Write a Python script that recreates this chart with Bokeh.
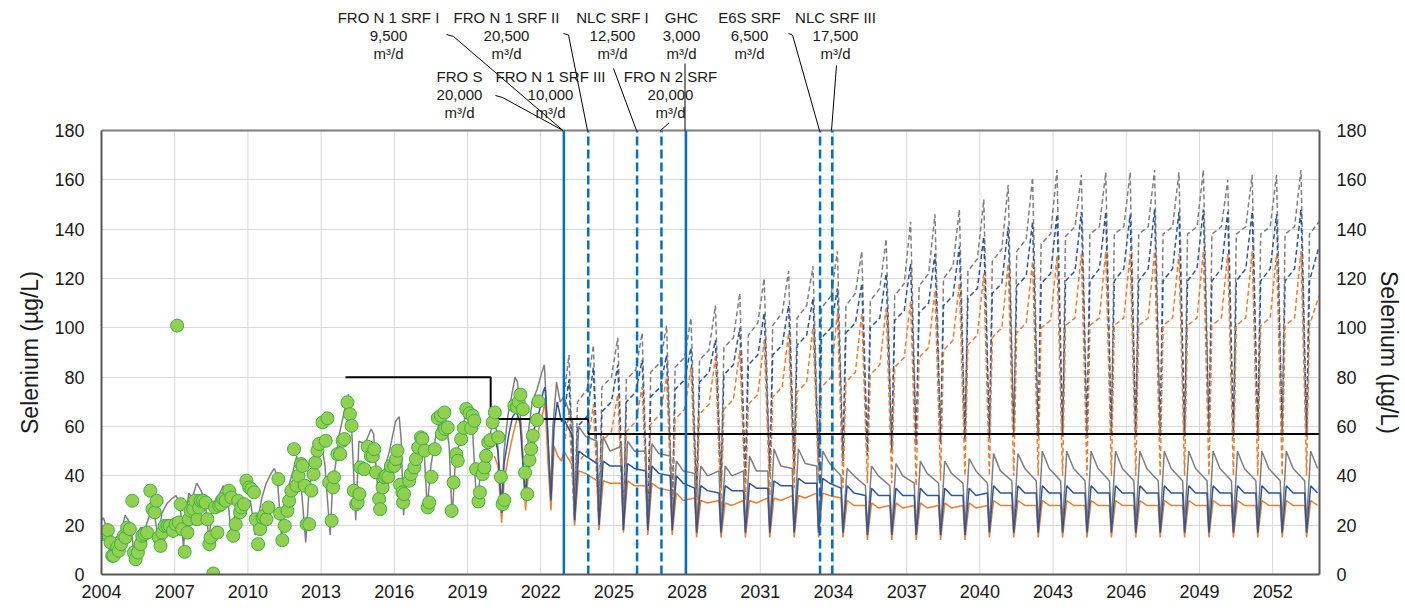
from bokeh.plotting import figure
from bokeh.models import Range1d, LinearAxis, Title
from bokeh.core.properties import value
from bokeh.embed import file_html
from bokeh.resources import INLINE

# ---------------- data ----------------
x_ticks = list(range(2004, 2053, 3))
y_ticks = list(range(0, 181, 20))

# observed selenium (green circles)
obs_t = [2004.00, 2004.20, 2004.26, 2004.37, 2004.44, 2004.50, 2004.64, 2004.71, 2004.80, 2004.92,
         2004.98, 2005.05, 2005.16, 2005.26, 2005.33, 2005.40, 2005.49, 2005.60, 2005.67, 2005.76,
         2005.87, 2006.00, 2006.09, 2006.18, 2006.26, 2006.35, 2006.42, 2006.49, 2006.59, 2006.70,
         2006.80, 2006.93, 2007.04, 2007.10, 2007.17, 2007.24, 2007.31, 2007.41, 2007.52, 2007.58,
         2007.65, 2007.76, 2007.83, 2007.93, 2008.00, 2008.06, 2008.16, 2008.27, 2008.34, 2008.42,
         2008.47, 2008.58, 2008.65, 2008.75, 2008.82, 2008.91, 2008.99, 2009.09, 2009.23, 2009.32,
         2009.40, 2009.50, 2009.60, 2009.68, 2009.73, 2009.84, 2009.94, 2010.05, 2010.14, 2010.25,
         2010.32, 2010.42, 2010.50, 2010.60, 2010.66, 2010.76, 2010.84, 2011.25, 2011.32, 2011.41,
         2011.51, 2011.62, 2011.69, 2011.78, 2011.89, 2011.99, 2012.07, 2012.17, 2012.24, 2012.33,
         2012.41, 2012.51, 2012.60, 2012.69, 2012.76, 2012.85, 2012.92, 2013.06, 2013.19, 2013.26,
         2013.33, 2013.43, 2013.49, 2013.53, 2013.67, 2013.78, 2013.88, 2013.95, 2014.08, 2014.18,
         2014.25, 2014.34, 2014.44, 2014.50, 2014.57, 2014.61, 2014.77, 2014.91, 2015.04, 2015.12,
         2015.18, 2015.25, 2015.38, 2015.42, 2015.52, 2015.59, 2015.66, 2015.75, 2015.86, 2016.00,
         2016.07, 2016.13, 2016.24, 2016.33, 2016.36, 2016.40, 2016.61, 2016.68, 2016.82, 2016.89,
         2016.98, 2017.09, 2017.15, 2017.24, 2017.37, 2017.43, 2017.52, 2017.66, 2017.78, 2017.91,
         2017.95, 2018.05, 2018.08, 2018.19, 2018.35, 2018.43, 2018.54, 2018.60, 2018.74, 2018.85,
         2018.95, 2019.08, 2019.15, 2019.21, 2019.28, 2019.35, 2019.45, 2019.51, 2019.62, 2019.69,
         2019.76, 2019.85, 2019.94, 2020.03, 2020.12, 2020.26, 2020.37, 2020.44, 2020.51, 2020.92,
         2021.03, 2021.10, 2021.17, 2021.27, 2021.36, 2021.45, 2021.54, 2021.61, 2021.68, 2021.85,
         2021.91]
obs_v = [16.4, 16.8, 18.0, 13.0, 7.6, 7.6, 11.0, 9.6, 12.3, 15.7,
         15.0, 19.0, 18.4, 29.9, 8.9, 6.2, 8.9, 12.3, 15.7, 16.4,
         17.0, 34.0, 26.5, 25.2, 29.9, 15.0, 11.6, 17.0, 19.7, 19.7,
         19.7, 17.7, 20.4, 100.9, 21.1, 28.5, 18.4, 9.2, 17.0, 22.4,
         25.8, 26.5, 29.9, 22.4, 27.2, 29.9, 29.9, 29.2, 22.4, 12.3,
         15.0, 0.4, 27.2, 17.0, 27.9, 28.5, 30.6, 29.9, 34.0, 31.2,
         15.7, 20.4, 29.9, 25.2, 27.2, 28.5, 38.0, 35.3, 34.6, 33.3,
         22.4, 12.3, 18.4, 23.1, 23.8, 22.4, 27.2, 38.7, 24.7, 13.9,
         19.7, 25.8, 29.9, 34.0, 50.8, 36.0, 40.0, 44.8, 44.0, 36.0,
         20.4, 20.4, 34.0, 40.7, 45.4, 50.2, 52.9, 61.7, 54.2, 63.3,
         37.3, 21.8, 35.3, 39.4, 48.8, 48.8, 54.2, 54.9, 69.8, 65.0,
         60.3, 34.0, 28.5, 29.2, 32.6, 43.4, 42.7, 51.8, 48.1, 48.0,
         50.8, 41.4, 30.6, 26.5, 35.3, 39.4, 40.0, 39.6, 44.0, 44.0,
         46.8, 50.2, 36.4, 33.3, 29.2, 32.6, 38.0, 40.7, 43.4, 46.8,
         51.5, 55.6, 55.0, 50.2, 27.2, 29.2, 39.6, 50.8, 63.4, 64.4,
         57.0, 65.7, 59.0, 59.6, 25.8, 37.3, 48.8, 46.1, 54.9, 59.4,
         67.1, 65.3, 59.4, 64.4, 62.3, 42.7, 29.6, 33.3, 40.7, 43.4,
         48.1, 53.6, 54.5, 61.7, 65.7, 55.6, 39.6, 28.5, 30.2, 68.4,
         67.7, 70.0, 72.9, 67.0, 41.3, 32.6, 46.4, 50.9, 56.3, 62.6,
         70.2]

# modelled (historical) - grey solid line
hist_t = [2004.00, 2004.08, 2004.20, 2004.35, 2004.47, 2004.60, 2004.80, 2004.97, 2005.10, 2005.22,
          2005.33, 2005.45, 2005.60, 2005.80, 2005.97, 2006.10, 2006.22, 2006.33, 2006.48, 2006.70,
          2006.92, 2007.05, 2007.22, 2007.36, 2007.48, 2007.58, 2007.72, 2007.90, 2008.08, 2008.25,
          2008.40, 2008.52, 2008.70, 2008.85, 2009.00, 2009.15, 2009.35, 2009.47, 2009.60, 2009.75,
          2009.95, 2010.10, 2010.30, 2010.42, 2010.57, 2010.75, 2010.95, 2011.08, 2011.20, 2011.38,
          2011.50, 2011.65, 2011.85, 2012.00, 2012.15, 2012.37, 2012.50, 2012.65, 2012.85, 2013.00,
          2013.15, 2013.37, 2013.47, 2013.60, 2013.75, 2013.95, 2014.12, 2014.25, 2014.42, 2014.55,
          2014.80, 2015.05, 2015.15, 2015.35, 2015.50, 2015.80, 2016.05, 2016.20, 2016.28, 2016.38,
          2016.50, 2016.70, 2016.90, 2017.05, 2017.20, 2017.35, 2017.50, 2017.70, 2017.90, 2018.10,
          2018.25, 2018.37, 2018.50, 2018.70, 2018.90, 2019.05, 2019.20, 2019.38, 2019.50, 2019.70,
          2019.90, 2020.05, 2020.20, 2020.40, 2020.50, 2020.65, 2020.80, 2020.95, 2021.05, 2021.20,
          2021.38, 2021.50, 2021.65, 2021.85, 2022.05, 2022.15, 2022.28, 2022.40, 2022.50, 2022.65,
          2022.80, 2022.95]
hist_v = [22, 23, 19, 8, 13, 15, 17, 24, 22, 19,
          8, 16, 19, 19, 24, 28, 21, 15, 25, 29,
          31, 32, 29, 11, 26, 33, 31, 37, 34, 30,
          14, 25, 31, 33, 36, 33, 13, 24, 31, 26,
          29, 30, 16, 23, 31, 37, 41, 43, 40, 15,
          29, 35, 42, 48, 40, 13, 33, 43, 54, 53,
          45, 16, 36, 45, 57, 66, 73, 60, 22, 54,
          53, 59, 57, 30, 39, 50, 62, 64, 55, 24,
          37, 46, 52, 58, 54, 27, 44, 56, 64, 63,
          52, 23, 45, 55, 64, 65, 60, 27, 38, 48,
          55, 63, 58, 28, 50, 64, 72, 80, 78, 60,
          30, 58, 70, 75, 82, 85, 60, 32, 60, 78,
          70, 72]

blue_hist_t = [2020.10, 2020.25, 2020.40, 2020.50, 2020.70, 2020.85, 2021.00, 2021.15, 2021.37, 2021.50,
               2021.70, 2021.90, 2022.10, 2022.18, 2022.30, 2022.42, 2022.55, 2022.68, 2022.85, 2022.95]
blue_hist_v = [56, 50, 25, 45, 57, 64, 66, 62, 31, 48,
               58, 64, 74, 76, 55, 30, 60, 70, 62, 63]
orange_hist_t = [2020.10, 2020.25, 2020.40, 2020.50, 2020.70, 2020.85, 2021.05, 2021.20, 2021.38, 2021.50,
                 2021.70, 2021.90, 2022.10, 2022.18, 2022.30, 2022.42, 2022.55, 2022.70, 2022.85, 2022.95]
orange_hist_v = [48, 44, 21, 38, 49, 56, 64, 60, 26, 42,
                 52, 58, 66, 70, 45, 26, 52, 48, 46, 50]

# projections, one value per year 2023..2053
proj_years = list(range(2023, 2054))

gray_pre    = [62, 54, 52, 50, 48, 41, 42, 42, 42, 43, 44, 40, 36, 36, 37, 37, 37, 37, 38, 38, 38, 38, 38, 38, 38, 38, 38, 38, 38, 38, 38]
gray_trough = [24, 22, 21, 20, 20, 19, 19, 19, 19, 19, 19, 19, 18, 18, 18, 18, 19, 19, 19, 20, 20, 20, 21, 21, 21, 21, 21, 21, 21, 21, 21]
gray_peak   = [60, 56, 54, 53, 46, 44, 44, 48, 51, 51, 50, 43, 44, 45, 46, 46, 47, 49, 49, 50, 50, 50, 50, 50, 50, 50, 50, 50, 50, 50, 50]
gray_mid    = [56, 50, 50, 49, 42, 40, 40, 42, 44, 45, 45, 40, 40, 40, 41, 41, 42, 42, 43, 43, 43, 43, 43, 43, 43, 43, 43, 43, 43, 43, 43]

blue_pre    = [56, 45, 44, 42, 40, 35, 33, 34, 35, 36, 37, 35, 32, 32, 32, 32, 32, 33, 33, 33, 33, 33, 33, 33, 33, 33, 33, 33, 33, 33, 33]
blue_trough = [22, 20, 18, 18, 18, 17, 17, 17, 17, 17, 17, 17, 16, 16, 16, 16, 16, 17, 17, 17, 17, 17, 17, 17, 17, 17, 17, 17, 17, 17, 17]
blue_peak   = [50, 46, 45, 44, 40, 36, 36, 37, 38, 39, 39, 36, 35, 35, 35, 35, 35, 36, 36, 36, 36, 36, 36, 36, 36, 36, 36, 36, 36, 36, 36]
blue_mid    = [48, 44, 43, 41, 37, 34, 34, 35, 36, 37, 37, 33, 32, 32, 32, 32, 32, 33, 33, 33, 33, 33, 33, 33, 33, 33, 33, 33, 33, 33, 33]

orange_pre    = [44, 38, 37, 36, 34, 31, 30, 30, 31, 32, 33, 31, 28, 28, 28, 28, 28, 28, 28, 28, 28, 28, 28, 28, 28, 28, 28, 28, 28, 28, 28]
orange_trough = [20, 18, 17, 16, 16, 15, 15, 15, 15, 15, 15, 15, 14, 14, 14, 14, 14, 15, 15, 15, 15, 15, 15, 15, 15, 15, 15, 15, 15, 15, 15]
orange_peak   = [42, 38, 38, 37, 33, 30, 29, 30, 31, 32, 33, 30, 29, 29, 29, 29, 29, 30, 30, 30, 30, 30, 30, 30, 30, 30, 30, 30, 30, 30, 30]
orange_mid    = [41, 37, 36, 35, 30, 29, 28, 29, 30, 31, 32, 28, 27, 27, 27, 27, 27, 28, 28, 28, 28, 28, 28, 28, 28, 28, 28, 28, 28, 28, 28]

dash_start = {"gray": 76, "blue": 68, "orange": 55}   # values at 2023.0
gray_dash_peak   = [89, 93, 96, 98, 101, 104, 109, 114, 120, 123, 125, 131, 131, 136, 143, 146, 148, 152, 158, 161, 164, 162, 163, 163, 164, 163, 164, 160, 162, 162, 164]
gray_dash_trough = [24, 22, 22, 23, 27, 34, 38, 40, 42, 44, 46, 48, 50, 52, 53, 54, 55, 56, 56, 57, 57, 57, 57, 57, 57, 57, 57, 57, 57, 57, 57]
gray_dash_rise   = [70, 76, 79, 82, 84, 87, 92, 97, 101, 104, 108, 109, 111, 113, 117, 120, 123, 127, 131, 134, 137, 138, 138, 138, 138, 138, 138, 138, 138, 138, 138]
gray_dash_plat   = [75, 80, 83, 86, 88, 91, 96, 102, 106, 109, 113, 114, 116, 118, 122, 125, 128, 132, 136, 138, 141, 141, 141, 141, 141, 141, 141, 141, 141, 141, 143]

blue_dash_peak   = [79, 84, 85, 87, 89, 92, 95, 100, 106, 109, 112, 116, 118, 122, 126, 130, 133, 137, 141, 143, 146, 147, 147, 146, 148, 147, 148, 147, 147, 146, 148]
blue_dash_trough = [22, 21, 21, 21, 25, 31, 35, 38, 40, 42, 44, 46, 48, 50, 52, 53, 54, 55, 56, 56, 56, 56, 56, 56, 56, 56, 56, 56, 56, 56, 56]
blue_dash_rise   = [60, 66, 70, 72, 75, 78, 81, 85, 89, 93, 96, 98, 100, 103, 106, 109, 112, 114, 117, 118, 119, 119, 119, 119, 119, 119, 119, 119, 119, 119, 119]
blue_dash_plat   = [64, 70, 74, 76, 79, 82, 85, 89, 93, 97, 100, 102, 104, 107, 110, 113, 116, 118, 121, 122, 123, 124, 124, 124, 124, 124, 124, 124, 124, 124, 133]

orange_dash_peak   = [66, 69, 73, 76, 80, 84, 88, 91, 95, 98, 100, 106, 106, 108, 111, 115, 118, 122, 126, 127, 129, 130, 131, 130, 131, 130, 131, 130, 131, 130, 131]
orange_dash_trough = [20, 19, 18, 18, 20, 24, 26, 30, 32, 35, 38, 35, 37, 37, 36, 38, 40, 40, 40, 40, 40, 40, 40, 40, 40, 40, 40, 40, 40, 40, 40]
orange_dash_rise   = [45, 54, 58, 61, 63, 65, 67, 69, 72, 74, 76, 78, 81, 84, 88, 91, 93, 96, 98, 100, 101, 101, 101, 101, 101, 101, 101, 101, 101, 101, 101]
orange_dash_plat   = [50, 58, 62, 65, 67, 69, 71, 73, 76, 78, 80, 82, 85, 88, 92, 95, 97, 100, 102, 103, 104, 104, 104, 104, 104, 104, 104, 104, 104, 104, 113]

# benchmark step line
bench_start = [2014.0, 2019.95, 2023.95]
bench_value = [80, 63, 57]
bench_end = 2053.92

# facility start dates (vertical lines)
event_solid = [2022.95, 2027.95]
event_dashed = [2023.95, 2025.95, 2026.95, 2033.45, 2033.95]

ann_names = ["FRO N 1 SRF I", "FRO N 1 SRF II", "NLC SRF I", "GHC", "E6S SRF", "NLC SRF III",
             "FRO S", "FRO N 1 SRF III", "FRO N 2 SRF"]
ann_flows = ["9,500", "20,500", "12,500", "3,000", "6,500", "17,500", "20,000", "10,000", "20,000"]
ann_unit = "m³/d"
y_title = "Selenium (µg/L)"

# ---------------- layout helpers ----------------
X0, X1 = 2004.0, 2053.92
Y0, Y1 = 0, 180
FW = 1218
PLOT_TOP, PLOT_BOTTOM = 130, 574        # page px of the value axis 180 .. 0
FH = PLOT_BOTTOM                         # frame spans page y 0 .. 574 (annotations on top)
LEFT = 101
Y_PER_PX = (Y1 - Y0) / (PLOT_BOTTOM - PLOT_TOP)
YTOP = Y0 + PLOT_BOTTOM * Y_PER_PX


def px_x(X):
    return X0 + (X - LEFT) * (X1 - X0) / FW


def px_y(Y):
    return Y0 + (PLOT_BOTTOM - Y) * Y_PER_PX


# label block positions (page px: centre x, first row y)
ann_pos = [(388, 17), (506, 17), (612, 17), (681, 17), (749, 17), (835, 17),
           (459, 76), (550, 76), (670, 76)]
row_dy = [0, 18.5, 36]
leaders = [
    [(446, 34), (453, 36), (562.5, 130)],
    [(495, 95), (502, 97), (562.5, 130)],
    [(563, 33), (568, 34.5), (587, 130)],
    [(613, 68), (636, 130)],
    [(660, 130), (668.5, 122.5)],
    [(684.5, 63), (684.5, 130)],
    [(788, 33), (792, 34.5), (819, 130)],
    [(836, 65), (831, 130)],
]

# ---------------- build series ----------------
SOLID_OFF = (0.31, 0.39, 0.56, 0.84)
DASH_OFF = (0.16, 0.39, 0.51, 0.90)


def build(arrs, offs):
    t, v = [], []
    for i, yr in enumerate(proj_years):
        for off, arr in zip(offs, arrs):
            t.append(yr + off)
            v.append(arr[i])
    return t, v


gs_t, gs_v = build((gray_pre, gray_trough, gray_peak, gray_mid), SOLID_OFF)
bs_t, bs_v = build((blue_pre, blue_trough, blue_peak, blue_mid), SOLID_OFF)
os_t, os_v = build((orange_pre, orange_trough, orange_peak, orange_mid), SOLID_OFF)
gd_t, gd_v = build((gray_dash_peak, gray_dash_trough, gray_dash_rise, gray_dash_plat), DASH_OFF)
bd_t, bd_v = build((blue_dash_peak, blue_dash_trough, blue_dash_rise, blue_dash_plat), DASH_OFF)
od_t, od_v = build((orange_dash_peak, orange_dash_trough, orange_dash_rise, orange_dash_plat), DASH_OFF)

GRAY, BLUE, ORANGE = "#7F7F7F", "#2F5597", "#ED7D31"
VBLUE = "#0070C0"
FONT = "Liberation Sans"
TXT = "#1A1A1A"
GRID = "#D9D9D9"

# ---------------- figure ----------------
p = figure(title=None, frame_width=FW, frame_height=FH,
           x_range=Range1d(X0, X1), y_range=Range1d(Y0, YTOP),
           output_backend="svg", toolbar_location=None,
           min_border_left=LEFT, min_border_right=10, min_border_top=0, min_border_bottom=36,
           background_fill_color="white", border_fill_color="white")
p.outline_line_color = None

p.xaxis.ticker = x_ticks
p.yaxis.ticker = y_ticks
p.yaxis.bounds = (Y0, Y1)
p.xgrid.visible = False
p.ygrid.grid_line_color = GRID
p.ygrid.grid_line_width = 1

right_axis = LinearAxis(ticker=y_ticks, bounds=(Y0, Y1))
p.add_layout(right_axis, "right")

for ax in [p.xaxis[0], p.yaxis[0], right_axis]:
    ax.axis_line_color = "#595959"
    ax.axis_line_width = 2
    ax.major_tick_line_color = None
    ax.minor_tick_line_color = None
    ax.major_tick_out = 0
    ax.major_tick_in = 0
    ax.major_label_text_font = FONT
    ax.major_label_text_font_size = "18px"
    ax.major_label_text_color = TXT

p.xaxis.major_label_standoff = 10
p.yaxis[0].major_label_standoff = 17
right_axis.major_label_standoff = 17

# axis titles, centred on the value-axis part of the frame
TITLE_LEN = 163  # approx rendered length of the title in px
centre = (PLOT_TOP + PLOT_BOTTOM) / 2
p.add_layout(Title(text=y_title, align="left", vertical_align="middle",
                   offset=PLOT_BOTTOM - (centre + TITLE_LEN / 2), standoff=16,
                   text_font=FONT, text_font_size="23px", text_font_style="normal",
                   text_color=TXT), "left")
p.add_layout(Title(text=y_title, align="left", vertical_align="middle",
                   offset=centre - TITLE_LEN / 2, standoff=10,
                   text_font=FONT, text_font_size="23px", text_font_style="normal",
                   text_color=TXT), "right")

# vertical grid lines (only over the value area)
p.segment(x0=x_ticks, y0=[Y0] * len(x_ticks), x1=x_ticks, y1=[Y1] * len(x_ticks),
          line_color=GRID, line_width=1)
# top border of the plot area
p.line([X0, X1], [Y1, Y1], line_color="#7F7F7F", line_width=2)

# dashed projections
p.line([2023.0] + gd_t, [dash_start["gray"]] + gd_v, line_color=GRAY, line_width=1.5, line_dash="5 3")
p.line([2023.0] + bd_t, [dash_start["blue"]] + bd_v, line_color=BLUE, line_width=1.5, line_dash="5 3")
p.line([2023.0] + od_t, [dash_start["orange"]] + od_v, line_color=ORANGE, line_width=1.5, line_dash="5 3")

# solid lines
p.line(hist_t + gs_t, hist_v + gs_v, line_color=GRAY, line_width=1.5)
p.line(orange_hist_t + os_t, orange_hist_v + os_v, line_color=ORANGE, line_width=1.5)
p.line(blue_hist_t + bs_t, blue_hist_v + bs_v, line_color=BLUE, line_width=1.5)

# benchmark
bx, by = [], []
for i, (s, val) in enumerate(zip(bench_start, bench_value)):
    e = bench_start[i + 1] if i + 1 < len(bench_start) else bench_end
    bx += [s, e]
    by += [val, val]
p.line(bx, by, line_color="black", line_width=2)

# observations
p.scatter(obs_t, obs_v, size=13, fill_color="#92D050", line_color="#3CB043", line_width=1)

# facility lines (value area only)
p.segment(x0=event_solid, y0=[Y0] * len(event_solid), x1=event_solid, y1=[Y1] * len(event_solid),
          line_color=VBLUE, line_width=2.5)
p.segment(x0=event_dashed, y0=[Y0] * len(event_dashed), x1=event_dashed, y1=[Y1] * len(event_dashed),
          line_color=VBLUE, line_width=2.5, line_dash="9 4")

# leader lines
for pts in leaders:
    p.line([px_x(a) for a, _ in pts], [px_y(b) for _, b in pts], line_color="black", line_width=1)

# annotation labels
tx, ty, tt = [], [], []
for name, flow, (cx, cy) in zip(ann_names, ann_flows, ann_pos):
    for txt, dy in zip([name, flow, ann_unit], row_dy):
        tx.append(px_x(cx))
        ty.append(px_y(cy + dy))
        tt.append(txt)
p.text(x=tx, y=ty, text=tt, text_align="center", text_baseline="middle",
       text_font=value(FONT), text_font_size=value("15px"), text_color=TXT)

open("out.html", "w").write(file_html(p, INLINE))
